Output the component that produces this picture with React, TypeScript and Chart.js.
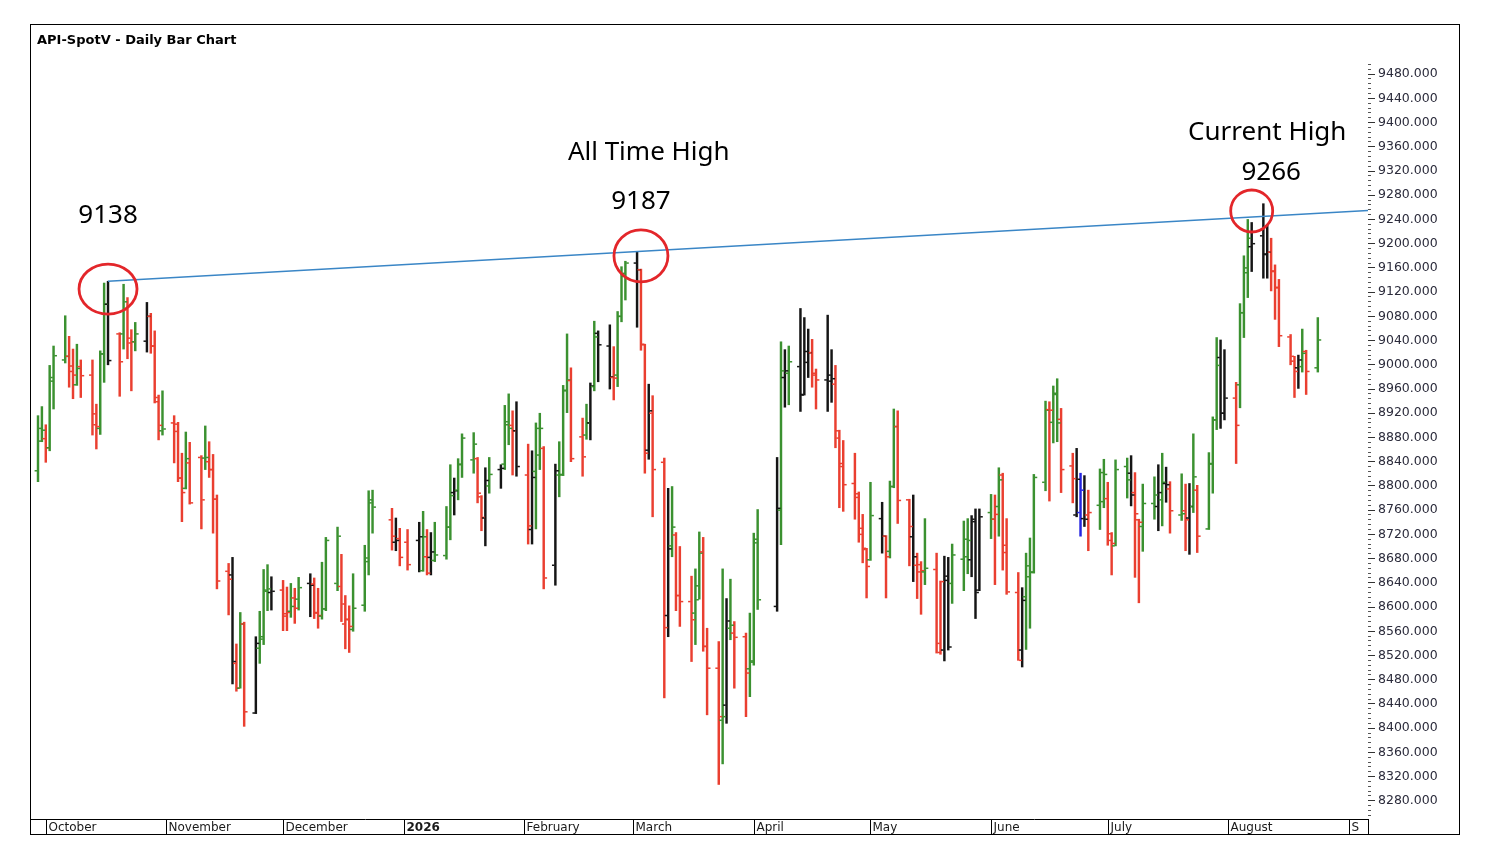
import { useEffect, useRef } from "react";
import { Chart, registerables } from "chart.js";

Chart.register(...registerables);

// trading days shown on the chart (weekends and holidays are gaps)
const dates = [
  "2025-09-29", "2025-09-30", "2025-10-01", "2025-10-02", "2025-10-03",
  "2025-10-06", "2025-10-07", "2025-10-08", "2025-10-09", "2025-10-10",
  "2025-10-13", "2025-10-14", "2025-10-15", "2025-10-16", "2025-10-17",
  "2025-10-20", "2025-10-21", "2025-10-22", "2025-10-23", "2025-10-24",
  "2025-10-27", "2025-10-28", "2025-10-29", "2025-10-30", "2025-10-31",
  "2025-11-03", "2025-11-04", "2025-11-05", "2025-11-06", "2025-11-07",
  "2025-11-10", "2025-11-11", "2025-11-12", "2025-11-13", "2025-11-14",
  "2025-11-17", "2025-11-18", "2025-11-19", "2025-11-20", "2025-11-21",
  "2025-11-24", "2025-11-25", "2025-11-26", "2025-11-27", "2025-11-28",
  "2025-12-01", "2025-12-02", "2025-12-03", "2025-12-04", "2025-12-05",
  "2025-12-08", "2025-12-09", "2025-12-10", "2025-12-11", "2025-12-12",
  "2025-12-15", "2025-12-16", "2025-12-17", "2025-12-18", "2025-12-19",
  "2025-12-22", "2025-12-23", "2025-12-24",
  "2025-12-29", "2025-12-30", "2025-12-31", "2026-01-02",
  "2026-01-05", "2026-01-06", "2026-01-07", "2026-01-08", "2026-01-09",
  "2026-01-12", "2026-01-13", "2026-01-14", "2026-01-15", "2026-01-16",
  "2026-01-19", "2026-01-20", "2026-01-21", "2026-01-22", "2026-01-23",
  "2026-01-26", "2026-01-27", "2026-01-28", "2026-01-29", "2026-01-30",
  "2026-02-02", "2026-02-03", "2026-02-04", "2026-02-05", "2026-02-06",
  "2026-02-09", "2026-02-10", "2026-02-11", "2026-02-12", "2026-02-13",
  "2026-02-16", "2026-02-17", "2026-02-18", "2026-02-19", "2026-02-20",
  "2026-02-23", "2026-02-24", "2026-02-25", "2026-02-26", "2026-02-27",
  "2026-03-02", "2026-03-03", "2026-03-04", "2026-03-05", "2026-03-06",
  "2026-03-09", "2026-03-10", "2026-03-11", "2026-03-12", "2026-03-13",
  "2026-03-16", "2026-03-17", "2026-03-18", "2026-03-19", "2026-03-20",
  "2026-03-23", "2026-03-24", "2026-03-25", "2026-03-26", "2026-03-27",
  "2026-03-30", "2026-03-31", "2026-04-01", "2026-04-02",
  "2026-04-07", "2026-04-08", "2026-04-09", "2026-04-10",
  "2026-04-13", "2026-04-14", "2026-04-15", "2026-04-16", "2026-04-17",
  "2026-04-20", "2026-04-21", "2026-04-22", "2026-04-23", "2026-04-24",
  "2026-04-27", "2026-04-28", "2026-04-29", "2026-04-30", "2026-05-01",
  "2026-05-04", "2026-05-05", "2026-05-06", "2026-05-07", "2026-05-08",
  "2026-05-11", "2026-05-12", "2026-05-13", "2026-05-14", "2026-05-15",
  "2026-05-18", "2026-05-19", "2026-05-20", "2026-05-21", "2026-05-22",
  "2026-05-25", "2026-05-26", "2026-05-27", "2026-05-28", "2026-05-29",
  "2026-06-01", "2026-06-02", "2026-06-03", "2026-06-04", "2026-06-05",
  "2026-06-08", "2026-06-09", "2026-06-10", "2026-06-11", "2026-06-12",
  "2026-06-15", "2026-06-16", "2026-06-17", "2026-06-18", "2026-06-19",
  "2026-06-22", "2026-06-23", "2026-06-24", "2026-06-25", "2026-06-26",
  "2026-06-29", "2026-06-30", "2026-07-01", "2026-07-02", "2026-07-03",
  "2026-07-06", "2026-07-07", "2026-07-08", "2026-07-09", "2026-07-10",
  "2026-07-13", "2026-07-14", "2026-07-15", "2026-07-16", "2026-07-17",
  "2026-07-20", "2026-07-21", "2026-07-22", "2026-07-23", "2026-07-24",
  "2026-07-27", "2026-07-28", "2026-07-29", "2026-07-30", "2026-07-31",
  "2026-08-03", "2026-08-04", "2026-08-05", "2026-08-06", "2026-08-07",
  "2026-08-10", "2026-08-11", "2026-08-12", "2026-08-13", "2026-08-14",
  "2026-08-17", "2026-08-18", "2026-08-19", "2026-08-20", "2026-08-21",
  "2026-08-24",
];

const opens = [
  8825, 8874, 8878, 8863, 8979, 9008, 9014, 8998, 8967, 8997,
  8983, 8919, 8895, 9018, 9100, 9051, 9051, 9091, 9044, 9038,
  9039, 9080, 9031, 8946, 8891, 8904, 8902, 8813, 8796, 8838,
  8847, 8846, 8840, 8827, 8778, 8659, 8653, 8507, 8466, 8572,
  8425, 8532, 8547, 8628, 8624, 8628, 8589, 8593, 8615, 8613,
  8639, 8638, 8590, 8585, 8597, 8639, 8634, 8572, 8580, 8563,
  8603, 8681, 8772, 8744, 8707, 8713, 8707,
  8710, 8660, 8683, 8682, 8677, 8685, 8732, 8789, 8793, 8836,
  8843, 8845, 8782, 8747, 8800, 8827, 8836, 8906, 8900, 8891,
  8818, 8728, 8824, 8851, 8862, 8669, 8818, 8818, 8958, 8974,
  8881, 8884, 8904, 8964, 9052, 9031, 8979, 8983, 9080, 9146,
  9168, 9157, 9033, 8859, 8920, 8839, 8586, 8701, 8719, 8619,
  8609, 8590, 8635, 8691, 8535, 8499, 8413, 8438, 8565, 8557,
  8551, 8498, 8509, 8706, 8601, 8760, 8979, 8986,
  8997, 8951, 9022, 9020, 8986, 8975, 8983, 8968, 8891, 8837,
  8804, 8787, 8720, 8695, 8678, 8746, 8717, 8692, 8799, 8898,
  8777, 8716, 8669, 8670, 8658, 8662, 8540, 8529, 8644, 8639,
  8679, 8683, 8678, 8745, 8628, 8756, 8745, 8766, 8818, 8702,
  8624, 8529, 8617, 8650, 8657, 8806, 8926, 8905, 8953, 8910,
  8833, 8752, 8756, 8746, 8752, 8768, 8774, 8779, 8721, 8701,
  8832, 8821, 8789, 8744, 8733, 8771, 8766, 8777, 8804, 8795,
  8752, 8759, 8747, 8766, 8793, 8729, 8836, 8909, 9012, 8920,
  8945, 8967, 9086, 9160, 9195, 9213, 9183, 9186, 9155, 9127,
  9046, 9006, 8995, 8997, 9022, 8995,
];

const highs = [
  8916, 8931, 8901, 8999, 9031, 9081, 9047, 9026, 9034, 9008,
  9008, 8935, 9023, 9135, 9138, 9053, 9133, 9111, 9058, 9070,
  9103, 9085, 9056, 8950, 8957, 8916, 8905, 8854, 8889, 8872,
  8850, 8899, 8873, 8852, 8785, 8672, 8682, 8539, 8591, 8575,
  8551, 8593, 8662, 8670, 8650, 8644, 8633, 8639, 8631, 8649,
  8655, 8648, 8631, 8674, 8715, 8732, 8687, 8619, 8602, 8655,
  8702, 8792, 8793, 8763, 8747, 8730, 8728,
  8740, 8758, 8728, 8723, 8740, 8766, 8835, 8813, 8845, 8886,
  8888, 8847, 8784, 8830, 8847, 8835, 8933, 8952, 8924, 8939,
  8869, 8858, 8904, 8920, 8865, 8836, 8873, 8966, 9051, 8995,
  8912, 8935, 8970, 9072, 9056, 9066, 9030, 9088, 9162, 9171,
  9187, 9158, 9034, 8968, 8949, 8846, 8796, 8799, 8723, 8700,
  8651, 8663, 8724, 8715, 8565, 8543, 8663, 8614, 8646, 8576,
  8557, 8590, 8722, 8761, 8847, 9038, 9025, 9031,
  9093, 9078, 9059, 9042, 8993, 9082, 9025, 8999, 8892, 8875,
  8854, 8790, 8753, 8697, 8806, 8773, 8718, 8808, 8927, 8924,
  8778, 8785, 8689, 8675, 8746, 8689, 8643, 8684, 8682, 8704,
  8742, 8746, 8751, 8762, 8762, 8786, 8785, 8830, 8821, 8746,
  8657, 8632, 8689, 8714, 8819, 8940, 8939, 8965, 8977, 8928,
  8854, 8862, 8821, 8817, 8793, 8828, 8844, 8806, 8723, 8843,
  8846, 8850, 8822, 8745, 8803, 8815, 8835, 8854, 8831, 8807,
  8820, 8803, 8804, 8886, 8801, 8855, 8914, 9045, 9041, 9025,
  8971, 9101, 9180, 9240, 9235, 9266, 9231, 9209, 9165, 9141,
  9050, 9014, 9016, 9059, 9024, 9078,
];

const lows = [
  8807, 8873, 8839, 8858, 8927, 9003, 8963, 8944, 8966, 8946,
  8884, 8861, 8885, 8971, 9000, 8948, 9026, 9010, 8957, 9023,
  9021, 9019, 8937, 8876, 8884, 8838, 8807, 8741, 8795, 8770,
  8729, 8827, 8814, 8722, 8630, 8587, 8473, 8461, 8466, 8403,
  8424, 8507, 8538, 8594, 8595, 8561, 8561, 8583, 8573, 8595,
  8584, 8581, 8565, 8580, 8594, 8627, 8576, 8531, 8525, 8560,
  8593, 8653, 8722, 8694, 8693, 8668, 8661,
  8658, 8659, 8653, 8653, 8675, 8679, 8711, 8752, 8777, 8814,
  8821, 8772, 8726, 8701, 8788, 8796, 8827, 8868, 8818, 8816,
  8704, 8704, 8729, 8827, 8630, 8636, 8782, 8817, 8921, 8840,
  8816, 8877, 8876, 8957, 8972, 8960, 8942, 8964, 9071, 9107,
  9062, 9024, 8821, 8844, 8749, 8450, 8551, 8683, 8594, 8568,
  8510, 8538, 8613, 8527, 8422, 8307, 8341, 8408, 8546, 8466,
  8419, 8452, 8504, 8596, 8593, 8703, 8930, 8934,
  8923, 8950, 8979, 8963, 8927, 8923, 8938, 8863, 8764, 8758,
  8745, 8707, 8673, 8615, 8677, 8689, 8615, 8681, 8797, 8738,
  8668, 8642, 8614, 8588, 8637, 8524, 8522, 8511, 8529, 8606,
  8627, 8655, 8650, 8581, 8627, 8713, 8637, 8717, 8661, 8621,
  8512, 8501, 8530, 8565, 8656, 8792, 8775, 8871, 8873, 8789,
  8772, 8749, 8717, 8733, 8693, 8728, 8764, 8702, 8653, 8701,
  8780, 8767, 8649, 8607, 8692, 8745, 8726, 8734, 8773, 8722,
  8743, 8693, 8687, 8756, 8690, 8728, 8788, 8893, 8895, 8909,
  8837, 8929, 9045, 9111, 9154, 9143, 9143, 9122, 9075, 9030,
  9000, 8946, 8961, 8988, 8951, 8988,
];

const closes = [
  8895, 8892, 8863, 8973, 9015, 9014, 8989, 8983, 8994, 8982,
  8901, 8898, 9018, 9100, 9007, 9005, 9104, 9036, 9038, 9051,
  9080, 9031, 8939, 8900, 8894, 8890, 8813, 8789, 8845, 8772,
  8777, 8847, 8827, 8778, 8643, 8646, 8510, 8466, 8572, 8427,
  8540, 8551, 8626, 8630, 8626, 8585, 8591, 8601, 8598, 8632,
  8636, 8591, 8586, 8597, 8710, 8717, 8605, 8579, 8568, 8598,
  8675, 8777, 8765, 8717, 8710, 8682, 8670,
  8716, 8716, 8656, 8691, 8686, 8732, 8784, 8792, 8835, 8879,
  8869, 8788, 8748, 8809, 8819, 8829, 8901, 8895, 8891, 8832,
  8734, 8814, 8895, 8895, 8648, 8825, 8819, 8957, 8975, 8845,
  8848, 8904, 8965, 9046, 9033, 8980, 8978, 9080, 9151, 9168,
  9157, 9034, 8854, 8924, 8827, 8566, 8696, 8732, 8619, 8609,
  8579, 8612, 8689, 8535, 8499, 8419, 8419, 8577, 8570, 8550,
  8491, 8511, 8712, 8612, 8763, 8990, 8990, 9005,
  8950, 9004, 9020, 8983, 8975, 8973, 8977, 8879, 8832, 8802,
  8781, 8730, 8697, 8667, 8751, 8717, 8683, 8799, 8898, 8776,
  8733, 8683, 8658, 8660, 8664, 8525, 8642, 8651, 8534, 8686,
  8712, 8710, 8741, 8624, 8749, 8745, 8753, 8810, 8690, 8625,
  8512, 8611, 8668, 8658, 8814, 8925, 8925, 8951, 8904, 8827,
  8812, 8811, 8793, 8745, 8756, 8822, 8819, 8710, 8705, 8827,
  8810, 8785, 8754, 8740, 8771, 8785, 8789, 8806, 8802, 8759,
  8754, 8744, 8766, 8815, 8717, 8837, 8909, 8999, 8920, 8945,
  8900, 9086, 9152, 9209, 9200, 9182, 9186, 9154, 9128, 9048,
  9014, 8989, 9008, 9019, 8989, 9041,
];

// bar classification as coloured in the source: G up, R down, K outside, B other
const barTypes = (
  "GGRGG GRRGR RRGGK RGRRG KRRRG RRRGR RGRRR RKRGR KGGGK RRGRG KRRGG GRRRG " +
  "GGG RKRR KGRKG GGKGG GRRKG KGGRK RKGGR KGGGR RGKGK KRGGG KRRKR RKGRR " +
  "RGGRR RGKGR RGGG KGKG KKKRR KKRRR RRRRG KRGGR RKRRG RRKKG GGKKK GRGRR " +
  "RKGGG GRGGR RKBKR GGRRG GKRRG GKGKR GRKGR GGGKK RGGGK KKRRR RRKGR G"
)
  .replace(/ /g, "")
  .split("");

const monthStarts = [
  "2025-10-01", "2025-11-01", "2025-12-01", "2026-01-01", "2026-02-01", "2026-03-01",
  "2026-04-01", "2026-05-01", "2026-06-01", "2026-07-01", "2026-08-01", "2026-09-01",
];
const monthLabels = [
  "October", "November", "December", "2026", "February", "March",
  "April", "May", "June", "July", "August", "September",
];

const priceMin = 8250;
const priceMax = 9500;
const priceStep = 40;
const minorStep = 8;

// resistance line through the two earlier highs
const trendFrom = { date: "2025-10-17", price: 9138 };
const trendTo = { date: "2026-03-02", price: 9187 };

const circles = [
  { date: "2025-10-17", price: 9125, rx: 29, ry: 25 },
  { date: "2026-03-03", price: 9180, rx: 27, ry: 26 },
  { date: "2026-08-07", price: 9254, rx: 21, ry: 21 },
];

const notes = [
  { text: "9138", date: "2025-10-17", price: 9246 },
  { text: "All Time High", date: "2026-03-05", price: 9350 },
  { text: "9187", date: "2026-03-03", price: 9270 },
  { text: "Current High", date: "2026-08-11", price: 9383 },
  { text: "9266", date: "2026-08-12", price: 9318 },
];

const COLORS: Record<string, string> = {
  G: "#3b9130",
  R: "#ea3f30",
  K: "#151515",
  B: "#2424e0",
};

const BASE = Date.UTC(2025, 8, 29);
function dayOf(s: string) {
  const [y, m, d] = s.split("-").map(Number);
  return (Date.UTC(y, m - 1, d) - BASE) / 864e5;
}

function stepTicks(step: number) {
  const out: { value: number }[] = [];
  for (let v = Math.ceil(priceMin / step) * step; v <= priceMax; v += step) {
    out.push({ value: v });
  }
  return out;
}

const ohlcTicks = {
  id: "ohlcTicks",
  afterDatasetsDraw(chart: any) {
    const { ctx } = chart;
    const x = chart.scales.x;
    const y = chart.scales.y;
    ctx.save();
    dates.forEach((d, i) => {
      const px = x.getPixelForValue(dayOf(d));
      ctx.fillStyle = COLORS[barTypes[i]] || "#151515";
      const yo = y.getPixelForValue(opens[i]);
      const yc = y.getPixelForValue(closes[i]);
      ctx.fillRect(px - 3.4, yo - 0.75, 2.6, 1.5);
      ctx.fillRect(px + 0.8, yc - 0.75, 2.6, 1.5);
    });
    ctx.restore();
  },
};

const markup = {
  id: "markup",
  afterDatasetsDraw(chart: any) {
    const { ctx, chartArea } = chart;
    const x = chart.scales.x;
    const y = chart.scales.y;
    ctx.save();

    // trend line, extended to the right edge
    const x1 = x.getPixelForValue(dayOf(trendFrom.date));
    const y1 = y.getPixelForValue(trendFrom.price);
    const x2 = x.getPixelForValue(dayOf(trendTo.date));
    const y2 = y.getPixelForValue(trendTo.price);
    const slope = (y2 - y1) / (x2 - x1);
    ctx.strokeStyle = "#3a86c6";
    ctx.lineWidth = 1.5;
    ctx.beginPath();
    ctx.moveTo(x1, y1);
    ctx.lineTo(chartArea.right, y1 + (chartArea.right - x1) * slope);
    ctx.stroke();

    ctx.strokeStyle = "#e3262a";
    ctx.lineWidth = 2.8;
    circles.forEach((c) => {
      ctx.beginPath();
      ctx.ellipse(
        x.getPixelForValue(dayOf(c.date)),
        y.getPixelForValue(c.price),
        c.rx,
        c.ry,
        0,
        0,
        Math.PI * 2
      );
      ctx.stroke();
    });

    ctx.fillStyle = "#000";
    ctx.font = '26px "Noto Sans"';
    ctx.textAlign = "center";
    ctx.textBaseline = "middle";
    notes.forEach((n) => {
      ctx.fillText(n.text, x.getPixelForValue(dayOf(n.date)), y.getPixelForValue(n.price));
    });
    ctx.restore();
  },
};

const monthStrip = {
  id: "monthStrip",
  afterDraw(chart: any) {
    const { ctx, chartArea } = chart;
    const x = chart.scales.x;
    const top = x.top;
    const bottom = x.bottom;
    ctx.save();
    ctx.strokeStyle = "#000";
    ctx.lineWidth = 1;
    const edges = monthStarts.map((d) => Math.round(x.getPixelForValue(dayOf(d))) + 0.5);
    ctx.beginPath();
    [...edges, Math.round(chartArea.right) + 0.5].forEach((px) => {
      ctx.moveTo(px, top);
      ctx.lineTo(px, bottom);
    });
    ctx.stroke();

    ctx.fillStyle = "#1a1a1a";
    ctx.textBaseline = "alphabetic";
    ctx.textAlign = "left";
    edges.forEach((px, i) => {
      const end = i + 1 < edges.length ? edges[i + 1] : chartArea.right;
      const label = monthLabels[i];
      ctx.font = label === "2026" ? 'bold 12px "DejaVu Sans"' : '12px "DejaVu Sans"';
      let t = label;
      while (t && ctx.measureText(t).width > end - px - 4) t = t.slice(0, -1);
      if (t) ctx.fillText(t, px + 2, bottom - 3);
    });
    ctx.restore();
  },
};

export default function App() {
  const canvasRef = useRef<HTMLCanvasElement | null>(null);

  useEffect(() => {
    if (!canvasRef.current) return;

    const chart = new Chart(canvasRef.current.getContext("2d")!, {
      type: "bar",
      data: {
        datasets: [
          {
            label: "API-SpotV",
            data: dates.map((d, i) => ({ x: dayOf(d), y: [lows[i], highs[i]] })) as any,
            backgroundColor: barTypes.map((t) => COLORS[t] || "#151515"),
            borderWidth: 0,
            barThickness: 1.8,
            grouped: false,
          },
        ],
      },
      options: {
        animation: false,
        responsive: true,
        maintainAspectRatio: false,
        layout: { autoPadding: false, padding: { top: 37, left: 0, right: 0, bottom: 0 } },
        plugins: {
          legend: { display: false },
          tooltip: { enabled: false },
          title: { display: false },
        },
        scales: {
          x: {
            type: "linear",
            min: -1.8,
            max: 341.9,
            offset: false,
            afterFit: (s: any) => {
              s.height = 15;
            },
            ticks: { display: false },
            grid: { display: false },
            border: { display: true, color: "#000", width: 1 },
          },
          yMinor: {
            type: "linear",
            position: "right",
            weight: 0,
            min: priceMin,
            max: priceMax,
            afterBuildTicks: (s: any) => {
              s.ticks = stepTicks(minorStep);
            },
            afterFit: (s: any) => {
              s.width = 0;
            },
            ticks: { display: false },
            grid: { drawOnChartArea: false, tickLength: 3, color: "#555" },
            border: { display: false },
          },
          y: {
            type: "linear",
            position: "right",
            weight: 1,
            min: priceMin,
            max: priceMax,
            afterBuildTicks: (s: any) => {
              s.ticks = stepTicks(priceStep);
            },
            afterFit: (s: any) => {
              s.width = 91;
            },
            ticks: {
              autoSkip: false,
              padding: 3,
              color: "#2b2b3b",
              font: { family: "DejaVu Sans", size: 12.5 },
              callback: (v: any) => Number(v).toFixed(3),
            },
            grid: { drawOnChartArea: false, tickLength: 7, color: "#333" },
            border: { display: false },
          },
        },
      },
      plugins: [ohlcTicks, markup, monthStrip],
    });

    return () => {
      chart.destroy();
    };
  }, []);

  return (
    <div
      style={{
        position: "fixed",
        left: 0,
        top: 0,
        width: 1488,
        height: 858,
        background: "#fff",
      }}
    >
      <div
        style={{
          position: "absolute",
          left: 30,
          top: 24,
          width: 1428,
          height: 809,
          border: "1px solid #000",
        }}
      >
        <canvas ref={canvasRef}></canvas>
        <div
          style={{
            position: "absolute",
            left: 6,
            top: 7,
            lineHeight: "16px",
            font: 'bold 13px "DejaVu Sans"',
            color: "#000",
          }}
        >
          API-SpotV - Daily Bar Chart
        </div>
      </div>
    </div>
  );
}
